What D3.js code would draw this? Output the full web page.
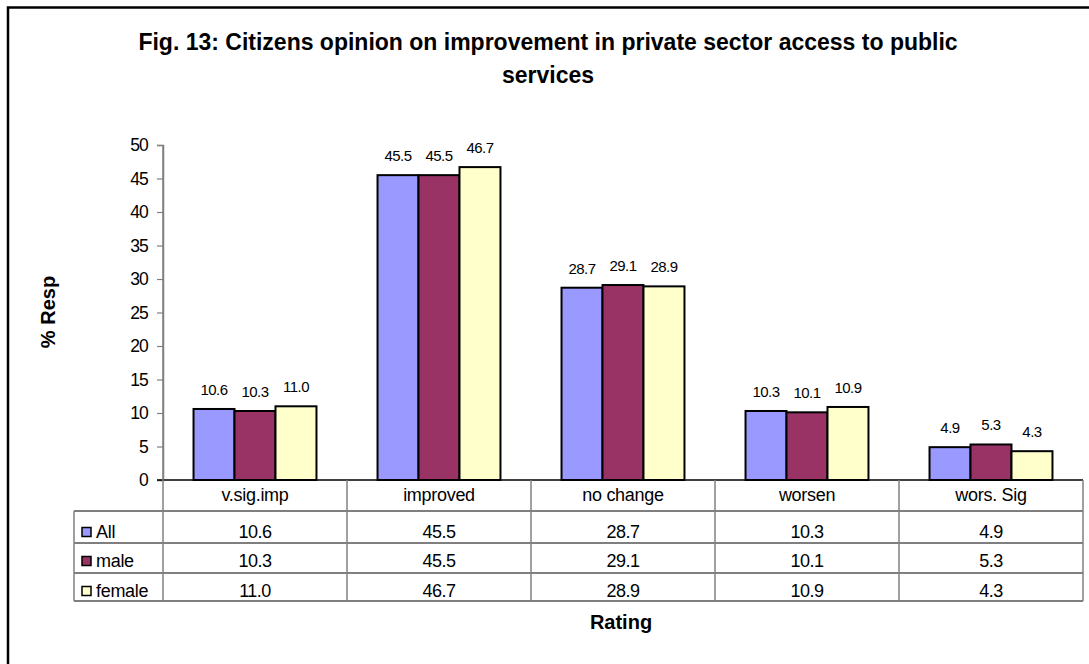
<!DOCTYPE html>
<html>
<head>
<meta charset="utf-8">
<script src="https://cdn.jsdelivr.net/npm/d3@7"></script>
<style>
  html, body { margin: 0; padding: 0; background: #fff; }
  svg { display: block; font-family: "Liberation Sans", Arial, sans-serif; }
</style>
</head>
<body>
<svg id="chart" width="1089" height="664"></svg>
<script>
// Survey ratings and the share of respondents per group
const categories = ["v.sig.imp", "improved", "no change", "worsen", "wors. Sig"];
const seriesNames = ["All", "male", "female"];
const allValues = [10.6, 45.5, 28.7, 10.3, 4.9];
const maleValues = [10.3, 45.5, 29.1, 10.1, 5.3];
const femaleValues = [11.0, 46.7, 28.9, 10.9, 4.3];
const yTicks = [0, 5, 10, 15, 20, 25, 30, 35, 40, 45, 50];
const titleLines = ["Fig. 13: Citizens opinion on improvement in private sector access to public", "services"];

const series = [
  { name: seriesNames[0], values: allValues, color: "#9999FF" },
  { name: seriesNames[1], values: maleValues, color: "#993366" },
  { name: seriesNames[2], values: femaleValues, color: "#FFFFCC" }
];

const svg = d3.select("#chart");

// outer frame (top and left edges)
svg.append("path")
  .attr("d", "M8,664 L8,7.5 L1089,7.5")
  .attr("fill", "none")
  .attr("stroke", "#000")
  .attr("stroke-width", 2.5);

// title
svg.append("g").selectAll("text")
  .data(titleLines)
  .join("text")
  .attr("x", 548)
  .attr("y", (d, i) => 50 + i * 33)
  .attr("text-anchor", "middle")
  .attr("font-weight", "bold")
  .attr("font-size", 23)
  .text(d => d);

const plotLeft = 163, plotRight = 1083, plotTop = 145, plotBottom = 480;

const y = d3.scaleLinear().domain([0, 50]).range([plotBottom, plotTop]);
const x0 = d3.scaleBand().domain(categories).range([plotLeft, plotRight]).padding(0);
const x1 = d3.scaleBand().domain(seriesNames).range([0, x0.bandwidth()])
  .paddingInner(0).paddingOuter(0.745);

// y axis
const yAxis = d3.axisLeft(y).tickValues(yTicks).tickSize(6).tickPadding(9);
const gy = svg.append("g").attr("transform", `translate(${plotLeft},0)`).call(yAxis);
gy.select(".domain").attr("stroke", "#808080").attr("stroke-width", 1.5);
gy.selectAll(".tick line").attr("stroke", "#808080").attr("stroke-width", 1.2);
gy.selectAll(".tick text")
  .attr("font-size", 17.5)
  .attr("letter-spacing", -0.8)
  .attr("fill", "#000")
  .attr("font-family", "Liberation Sans, Arial, sans-serif");

// bars
const groups = svg.append("g").selectAll("g")
  .data(categories)
  .join("g")
  .attr("transform", d => `translate(${x0(d)},0)`);

groups.selectAll("rect")
  .data((c, ci) => series.map(s => ({ name: s.name, value: s.values[ci], color: s.color })))
  .join("rect")
  .attr("x", d => x1(d.name))
  .attr("y", d => y(d.value))
  .attr("width", x1.bandwidth())
  .attr("height", d => y(0) - y(d.value))
  .attr("fill", d => d.color)
  .attr("stroke", "#000")
  .attr("stroke-width", 2);

// value labels above bars
groups.selectAll("text")
  .data((c, ci) => series.map(s => ({ name: s.name, value: s.values[ci] })))
  .join("text")
  .attr("x", d => x1(d.name) + x1.bandwidth() / 2)
  .attr("y", d => y(d.value) - 14)
  .attr("text-anchor", "middle")
  .attr("font-size", 15)
  .attr("letter-spacing", -0.5)
  .text(d => d.value.toFixed(1));

// x axis baseline
svg.append("line")
  .attr("x1", plotLeft - 6).attr("x2", plotRight)
  .attr("y1", y(0)).attr("y2", y(0))
  .attr("stroke", "#000").attr("stroke-width", 1.5);

// data table beneath the plot
const tableLeft = 74, headerBottom = 511, tableBottom = 601;
const ruleYs = [headerBottom, 543, 573, tableBottom];
const table = svg.append("g");

// horizontal rules
ruleYs.forEach(yy => {
  table.append("line")
    .attr("x1", tableLeft).attr("x2", plotRight)
    .attr("y1", yy).attr("y2", yy)
    .attr("stroke", "#000").attr("stroke-width", 1.2);
});

// column dividers
const colEdges = categories.map(c => x0(c)).concat([plotRight]);
colEdges.forEach((xx, i) => {
  table.append("line")
    .attr("x1", xx).attr("x2", xx)
    .attr("y1", i === 0 ? plotTop : y(0)).attr("y2", tableBottom)
    .attr("stroke", "#808080").attr("stroke-width", 1.5);
});
table.append("line")
  .attr("x1", tableLeft).attr("x2", tableLeft)
  .attr("y1", headerBottom).attr("y2", tableBottom)
  .attr("stroke", "#808080").attr("stroke-width", 1.5);

// header cells (category names)
table.selectAll("text.cat")
  .data(categories)
  .join("text")
  .attr("class", "cat")
  .attr("x", d => x0(d) + x0.bandwidth() / 2)
  .attr("y", 501)
  .attr("text-anchor", "middle")
  .attr("font-size", 18)
  .attr("letter-spacing", -0.3)
  .text(d => d);

// one row per series
const rowBaselines = [538, 567, 597];
series.forEach((s, si) => {
  const by = rowBaselines[si];
  table.append("rect")
    .attr("x", 82).attr("y", by - 10.5)
    .attr("width", 9).attr("height", 9)
    .attr("fill", s.color)
    .attr("stroke", "#000").attr("stroke-width", 1.5);
  table.append("text")
    .attr("x", 96).attr("y", by)
    .attr("font-size", 18)
    .attr("letter-spacing", -0.3)
    .text(s.name);
  table.selectAll(null)
    .data(categories)
    .join("text")
    .attr("x", d => x0(d) + x0.bandwidth() / 2)
    .attr("y", by)
    .attr("text-anchor", "middle")
    .attr("font-size", 18)
    .attr("letter-spacing", -0.5)
    .text((d, ci) => s.values[ci].toFixed(1));
});

// axis titles
svg.append("text")
  .attr("transform", "translate(55,312) rotate(-90)")
  .attr("text-anchor", "middle")
  .attr("font-weight", "bold")
  .attr("font-size", 20)
  .text("% Resp");

svg.append("text")
  .attr("x", 621).attr("y", 629)
  .attr("text-anchor", "middle")
  .attr("font-weight", "bold")
  .attr("font-size", 20)
  .text("Rating");
</script>
</body>
</html>
